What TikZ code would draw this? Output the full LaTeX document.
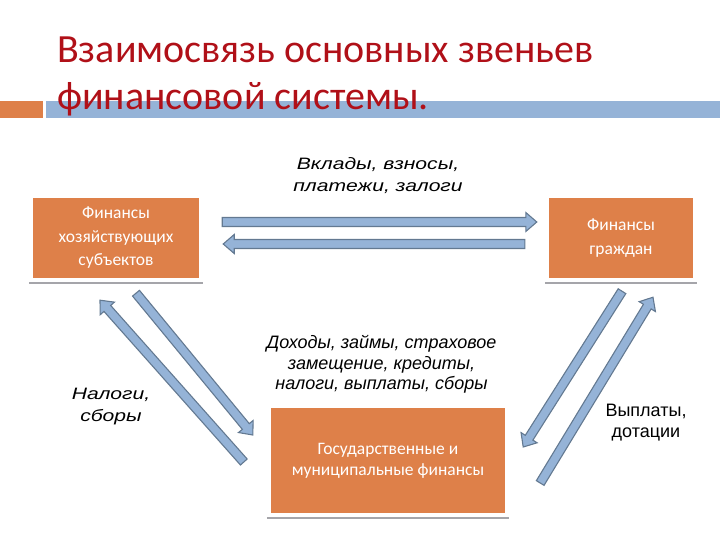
\documentclass[tikz,border=0pt]{standalone}
\usepackage{fontspec}
\setmainfont{Carlito}
\newfontfamily\arialfont{Liberation Sans}
\newfontfamily\widefont[FakeStretch=1.28]{Liberation Sans}
\usetikzlibrary{positioning,calc}

\definecolor{titlered}{RGB}{176,16,24}
\definecolor{boxorange}{RGB}{222,128,73}
\definecolor{barblue}{RGB}{149,179,215}
\definecolor{arrowfill}{RGB}{149,179,215}
\definecolor{arrowedge}{RGB}{99,121,145}
\definecolor{shelfgray}{RGB}{165,165,170}

\tikzset{
  finbox/.style={fill=boxorange, text=white, align=center, inner sep=0pt,
    font=\fontsize{17.5}{23.5}\selectfont},
  shelf/.style={draw=shelfgray, line width=2pt},
  flowlabel/.style={font=\arialfont\itshape\fontsize{18}{20.7}\selectfont,
    align=center, inner sep=0pt},
  widelabel/.style={flowlabel, font=\widefont\itshape\fontsize{16.5}{22}\selectfont},
  blockarrow/.style={draw=arrowedge, fill=arrowfill, line width=1.1pt, line join=miter,
    to path={let \p1=($(\tikztotarget)-(\tikztostart)$), \n1={atan2(\y1,\x1)},
      \n2={veclen(\x1,\y1)} in
      {[shift={(\tikztostart)}, rotate=\n1]
        (0pt,-4.5pt) -- (\n2-11pt,-4.5pt) -- (\n2-11pt,-9.5pt) -- (\n2,0pt)
        -- (\n2-11pt,9.5pt) -- (\n2-11pt,4.5pt) -- (0pt,4.5pt) -- cycle}}}
}

\begin{document}
\begin{tikzpicture}[x=1pt, y=-1pt]
  \useasboundingbox (0,0) rectangle (720,540);
  % header bars
  \fill[boxorange] (0,101) rectangle (43,118);
  \fill[barblue] (46,101) rectangle (720,118);

  % title
  \node[anchor=base west, text=titlered, inner sep=0pt, font=\fontsize{40}{47}\selectfont]
    (title1) at (57,63) {Взаимосвязь основных звеньев};
  \node[anchor=base west, text=titlered, inner sep=0pt, font=\fontsize{40}{47}\selectfont]
    (title2) at (57,110) {финансовой системы.};

  % boxes
  \node[finbox, minimum width=166pt, minimum height=80pt] (hoz) at (116,238)
    {Финансы\\хозяйствующих\\субъектов};
  \node[finbox, minimum width=144pt, minimum height=80pt] (grazh) at (621,238)
    {Финансы\\граждан};
  \node[finbox, minimum width=234pt, minimum height=105pt, font=\fontsize{17.5}{21}\selectfont]
    (gos) at (388,460.5) {Государственные и\\муниципальные финансы};

  \foreach \b in {hoz,grazh,gos}
    \draw[shelf] ([shift={(-4pt,-5pt)}]\b.south west) -- ([shift={(4pt,-5pt)}]\b.south east);

  % arrows
  \draw[blockarrow] ([shift={(23pt,16pt)}]hoz.east) to ([shift={(-12pt,16pt)}]grazh.west);
  \draw[blockarrow] ([shift={(-24pt,-6pt)}]grazh.west) to ([shift={(24pt,-6pt)}]hoz.east);
  \draw[blockarrow] ([shift={(-27pt,-1.5pt)}]gos.west) to ([shift={(-16pt,-22pt)}]hoz.south);
  \draw[blockarrow] ([shift={(20pt,-15pt)}]hoz.south) to ([shift={(-18pt,25.5pt)}]gos.west);
  \draw[blockarrow] ([shift={(1pt,-13pt)}]grazh.south) to ([shift={(18pt,13.5pt)}]gos.east);
  \draw[blockarrow] ([shift={(35pt,-22.5pt)}]gos.east) to ([shift={(32pt,-19pt)}]grazh.south);

  % labels
  \node[widelabel, anchor=north] (vklady) at (378,157) {Вклады, взносы,\\платежи, залоги};
  \node[flowlabel, anchor=north] (dohody) at (381.5,335)
    {Доходы, займы, страховое\\замещение, кредиты,\\налоги, выплаты, сборы};
  \node[widelabel, anchor=north] (nalogi) at (111,388) {Налоги,\\сборы};
  \node[flowlabel, anchor=north, font=\arialfont\fontsize{18}{21}\selectfont] (vyplaty)
    at (646,404) {Выплаты,\\дотации};
\end{tikzpicture}
\end{document}
